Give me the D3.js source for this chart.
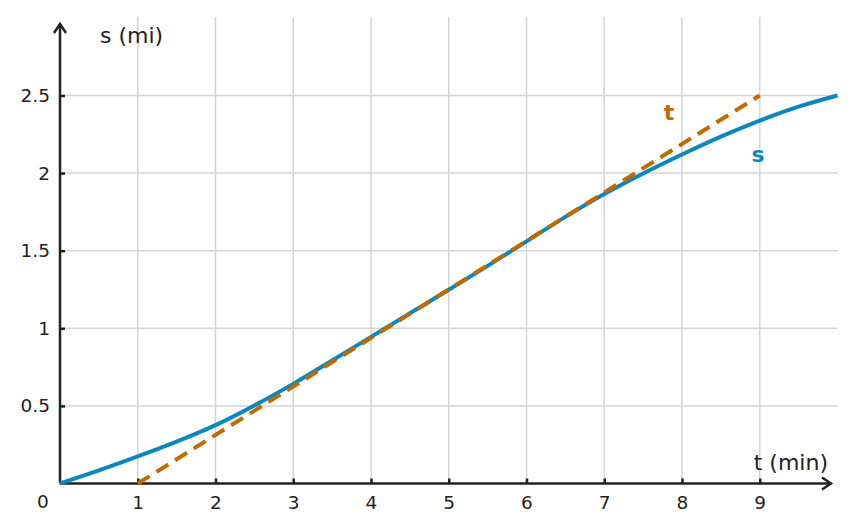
<!DOCTYPE html>
<html>
<head>
<meta charset="UTF-8">
<script src="https://cdn.jsdelivr.net/npm/d3@7"></script>
<style>
  body { margin: 0; background: #fff; }
  text { font-family: "DejaVu Sans", sans-serif; fill: #222; }
</style>
</head>
<body>
<svg width="855" height="532"></svg>
<script>
const width = 855, height = 532;

// distance s (mi) at half-minute steps
const tValues = [0, 0.5, 1, 1.5, 2, 2.5, 3, 3.5, 4, 4.5, 5, 5.5, 6, 6.5, 7, 7.5, 8, 8.5, 9, 9.5, 10];
const sValues = [0, 0.084, 0.174, 0.27, 0.376, 0.503, 0.642, 0.792, 0.945, 1.097, 1.248, 1.402, 1.56, 1.718, 1.865, 1.998, 2.12, 2.235, 2.338, 2.428, 2.5];
// tangent line end points
const tangentT = [1, 9];
const tangentS = [0, 2.5];
const xTicks = [1, 2, 3, 4, 5, 6, 7, 8, 9];
const yTicks = [0.5, 1, 1.5, 2, 2.5];

const x = d3.scaleLinear().domain([0, 10]).range([60, 837.5]);
const y = d3.scaleLinear().domain([0, 2.5]).range([483.5, 95.5]);

const svg = d3.select('svg');

// grid
const grid = svg.append('g').attr('stroke', '#d4d4d4').attr('stroke-width', 1.5);
grid.selectAll('.v').data(xTicks).enter().append('line')
    .attr('x1', d => x(d)).attr('x2', d => x(d))
    .attr('y1', y(0)).attr('y2', 17);
grid.selectAll('.h').data(yTicks).enter().append('line')
    .attr('x1', x(0)).attr('x2', x(10))
    .attr('y1', d => y(d)).attr('y2', d => y(d));

// axes
const xAxis = g => g
    .attr('transform', `translate(0, ${y(0)})`)
    .call(d3.axisBottom(x).tickValues(xTicks).tickSize(-5).tickPadding(10).tickSizeOuter(0))
    .call(g => g.select('.domain').remove())
    .call(g => g.selectAll('.tick line').attr('stroke', '#222').attr('stroke-width', 2.5))
    .call(g => g.selectAll('.tick text').attr('font-size', 18.5).attr('fill', '#222').attr('dy', '0.85em'));

const yAxis = g => g
    .attr('transform', `translate(${x(0)}, 0)`)
    .call(d3.axisLeft(y).tickValues(yTicks).tickFormat(d3.format('')).tickSize(-5).tickPadding(10).tickSizeOuter(0))
    .call(g => g.select('.domain').remove())
    .call(g => g.selectAll('.tick line').attr('stroke', '#222').attr('stroke-width', 2.5))
    .call(g => g.selectAll('.tick text').attr('font-size', 18.5).attr('fill', '#222'));

svg.append('g').call(xAxis);
svg.append('g').call(yAxis);

// axis lines with arrows
const ax = svg.append('g').attr('stroke', '#222').attr('stroke-width', 2.5).attr('fill', 'none');
ax.append('line').attr('x1', x(0)).attr('x2', 831).attr('y1', y(0)).attr('y2', y(0));
ax.append('path').attr('d', `M${822},${y(0) - 6} L${831},${y(0)} L${822},${y(0) + 6}`);
ax.append('line').attr('x1', x(0)).attr('x2', x(0)).attr('y1', y(0)).attr('y2', 24);
ax.append('path').attr('d', `M${x(0) - 6},${33} L${x(0)},${24} L${x(0) + 6},${33}`);

svg.append('text').attr('x', 43).attr('y', 508).attr('text-anchor', 'middle').attr('font-size', 18.5).text('0');
svg.append('text').attr('x', 828).attr('y', 470).attr('text-anchor', 'end').attr('font-size', 22).text('t (min)');
svg.append('text').attr('x', 100).attr('y', 43).attr('font-size', 22).text('s (mi)');

// curve
const line = d3.line().x(d => x(d[0])).y(d => y(d[1])).curve(d3.curveNatural);
svg.append('path')
    .datum(tValues.map((t, i) => [t, sValues[i]]))
    .attr('fill', 'none').attr('stroke', '#0a87bf').attr('stroke-width', 4)
    .attr('d', line);

// tangent
svg.append('path')
    .datum(tangentT.map((t, i) => [t, tangentS[i]]))
    .attr('fill', 'none').attr('stroke', '#c16a00').attr('stroke-width', 4)
    .attr('stroke-dasharray', '14,8')
    .attr('d', d3.line().x(d => x(d[0])).y(d => y(d[1])));

svg.append('text').attr('x', 669).attr('y', 120).attr('text-anchor', 'middle')
    .attr('font-size', 22).attr('font-weight', 'bold').style('fill', '#c16a00').text('t');
svg.append('text').attr('x', 758).attr('y', 162).attr('text-anchor', 'middle')
    .attr('font-size', 22).attr('font-weight', 'bold').style('fill', '#0a87bf').text('s');
</script>
</body>
</html>
